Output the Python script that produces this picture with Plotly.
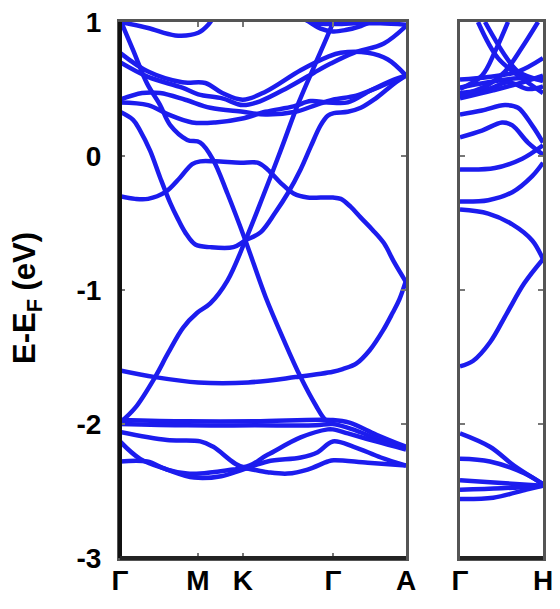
import plotly.graph_objects as go

# ---------------- left panel: path G-M-K-G-A (path coordinate) ----------------
kpath_vals = [0.0, 0.577, 0.910, 1.577, 2.119]
kpath_text = ["Γ", "M", "K", "Γ", "A"]

b1_k = [0, 0.26, 0.58, 0.95, 1.30, 1.577, 1.65, 1.75, 1.85, 1.95, 2.02, 2.07, 2.119]
b1_e = [-1.60, -1.65, -1.69, -1.69, -1.65, -1.61, -1.59, -1.55, -1.45, -1.30, -1.17, -1.07, -0.93]

b2_k = [0, 0.5, 1.0, 1.577, 1.70, 1.90, 2.119]
b2_e = [-1.97, -1.98, -1.98, -1.97, -1.99, -2.08, -2.17]

b3_k = [0, 0.5, 1.0, 1.45, 1.577, 1.75, 1.95, 2.119]
b3_e = [-2.00, -2.01, -2.01, -2.01, -2.00, -2.05, -2.13, -2.18]

b4_k = [0, 0.349, 0.595, 0.691, 0.914, 1.093, 1.338, 1.539, 1.577, 1.688, 1.896, 2.119]
b4_e = [-2.06, -2.12, -2.13, -2.17, -2.32, -2.23, -2.10, -2.04, -2.04, -2.07, -2.13, -2.19]

b5_k = [0, 0.149, 0.349, 0.55, 0.75, 0.91, 1.093, 1.34, 1.465, 1.577, 1.732, 1.933, 2.119]
b5_e = [-2.13, -2.26, -2.34, -2.40, -2.39, -2.34, -2.28, -2.25, -2.21, -2.13, -2.17, -2.25, -2.31]

b6_k = [0, 0.201, 0.349, 0.498, 0.595, 0.840, 0.914, 1.093, 1.242, 1.390, 1.539, 1.584, 1.836, 2.119]
b6_e = [-2.28, -2.28, -2.34, -2.37, -2.37, -2.34, -2.33, -2.36, -2.37, -2.34, -2.28, -2.27, -2.29, -2.31]

x1_k = [0, 0.112, 0.260, 0.357, 0.468, 0.572, 0.669, 0.796, 0.929, 1.056, 1.190, 1.316, 1.435, 1.539, 1.60]
x1_e = [-1.99, -1.88, -1.65, -1.47, -1.28, -1.17, -1.10, -0.93, -0.63, -0.31, 0.04, 0.38, 0.66, 0.90, 1.05]

x2_k = [0, 0.097, 0.201, 0.297, 0.372, 0.498, 0.595, 0.691, 0.796, 0.929, 1.078, 1.212, 1.338, 1.450, 1.524, 1.577]
x2_e = [1.02, 0.79, 0.54, 0.38, 0.23, 0.12, 0.10, -0.03, -0.28, -0.63, -1.05, -1.37, -1.65, -1.86, -1.97, -1.99]

al_k = [0, 0.112, 0.208, 0.335, 0.446, 0.535, 0.595, 0.706, 0.892, 1.019, 1.093, 1.190, 1.286, 1.390, 1.487,
        1.577, 1.636, 1.71, 1.784, 1.87, 1.955, 2.03, 2.119]
al_e = [-0.30, -0.32, -0.32, -0.27, -0.16, -0.06, -0.04, -0.04, -0.05, -0.05, -0.10, -0.20, -0.28, -0.31, -0.31,
        -0.31, -0.32, -0.38, -0.46, -0.55, -0.65, -0.79, -0.94]

be_k = [0, 0.097, 0.149, 0.223, 0.297, 0.372, 0.424, 0.483, 0.558, 0.669, 0.840, 0.929, 1.041, 1.152, 1.242,
        1.338, 1.413, 1.487, 1.539, 1.584, 1.688, 1.784, 1.881, 1.970, 2.045, 2.119]
be_e = [0.33, 0.27, 0.19, 0.04, -0.16, -0.35, -0.46, -0.57, -0.66, -0.68, -0.68, -0.63, -0.57, -0.42, -0.28,
        -0.10, 0.07, 0.23, 0.30, 0.32, 0.33, 0.36, 0.42, 0.49, 0.55, 0.60]

c1_k = [0, 0.208, 0.409, 0.580, 0.654, 0.70]
c1_e = [1.00, 0.955, 0.90, 0.92, 0.98, 1.05]

c2_k = [0, 0.208, 0.461, 0.632, 0.758, 0.910, 1.078, 1.338, 1.539, 1.636, 1.836, 1.985, 2.119]
c2_e = [0.77, 0.63, 0.55, 0.545, 0.47, 0.42, 0.48, 0.64, 0.74, 0.77, 0.77, 0.72, 0.60]

c3_k = [0, 0.208, 0.461, 0.580, 0.758, 0.910, 1.041, 1.242, 1.435, 1.561, 1.732, 1.955, 2.119]
c3_e = [0.70, 0.59, 0.51, 0.46, 0.43, 0.38, 0.41, 0.51, 0.62, 0.69, 0.77, 0.84, 0.97]

c4_k = [0, 0.164, 0.297, 0.483, 0.669, 0.910, 1.078, 1.301, 1.45, 1.577, 1.75, 1.93, 2.119]
c4_e = [0.42, 0.47, 0.47, 0.42, 0.36, 0.33, 0.31, 0.33, 0.38, 0.42, 0.45, 0.52, 0.60]

c5_k = [0, 0.208, 0.357, 0.535, 0.706, 0.907, 1.078, 1.286, 1.413, 1.539, 1.688, 1.859, 2.030, 2.119]
c5_e = [0.40, 0.38, 0.31, 0.25, 0.25, 0.28, 0.33, 0.37, 0.41, 0.40, 0.40, 0.49, 0.57, 0.60]

t1_k = [1.375, 1.487, 1.577, 1.670, 1.784, 1.896]
t1_e = [1.02, 0.95, 0.93, 0.94, 0.97, 1.02]

t2_k = [1.30, 1.450, 1.577, 1.75, 1.93, 2.119]
t2_e = [1.05, 0.99, 0.985, 0.99, 0.99, 0.98]

left_bands = [(b1_k, b1_e), (b2_k, b2_e), (b3_k, b3_e), (b4_k, b4_e), (b5_k, b5_e), (b6_k, b6_e),
              (x1_k, x1_e), (x2_k, x2_e), (al_k, al_e), (be_k, be_e), (c1_k, c1_e), (c2_k, c2_e),
              (c3_k, c3_e), (c4_k, c4_e), (c5_k, c5_e), (t1_k, t1_e), (t2_k, t2_e)]

# ---------------- right panel: G-H ----------------
rpath_vals = [0.0, 1.0]
rpath_text = ["Γ", "H"]

ra_u = [0, 0.34, 0.63, 0.87, 1.0]
ra_e = [-0.40, -0.43, -0.51, -0.63, -0.77]
rb_u = [0, 0.156, 0.362, 0.568, 0.774, 1.0]
rb_e = [-1.57, -1.53, -1.39, -1.17, -0.95, -0.77]
h1_u = [0, 0.34, 0.63, 0.87, 1.0]
h1_e = [-0.34, -0.33, -0.27, -0.15, -0.05]
h3_u = [0, 0.42, 0.75, 1.0]
h3_e = [-0.10, -0.09, -0.02, 0.08]
h4_u = [0, 0.265, 0.506, 0.627, 0.819, 1.0]
h4_e = [0.14, 0.19, 0.25, 0.23, 0.10, 0.01]
h5_u = [0, 0.265, 0.542, 0.699, 0.867, 1.0]
h5_e = [0.31, 0.34, 0.38, 0.36, 0.23, 0.10]
h6_u = [0, 0.34, 0.70, 1.0]
h6_e = [0.57, 0.59, 0.63, 0.73]
h7_u = [0, 0.34, 0.70, 1.0]
h7_e = [0.51, 0.55, 0.58, 0.57]
h8_u = [0, 0.34, 0.58, 0.82, 1.0]
h8_e = [0.47, 0.50, 0.55, 0.50, 0.52]
h9_u = [0, 0.40, 0.70, 1.0]
h9_e = [0.43, 0.49, 0.54, 0.60]
h10_u = [0.217, 0.458, 0.747, 1.0]
h10_e = [1.0, 0.73, 0.58, 0.47]
h11_u = [0.301, 0.542, 0.70, 1.0]
h11_e = [1.0, 0.75, 0.63, 0.56]
h12_u = [0, 0.265, 0.422, 0.578]
h12_e = [0.50, 0.60, 0.78, 1.0]
h13_u = [0, 0.337, 0.542, 0.747, 0.94]
h13_e = [0.45, 0.53, 0.63, 0.81, 1.0]
l1_u = [0, 0.36, 0.65, 0.95, 1.0]
l1_e = [-2.07, -2.17, -2.31, -2.43, -2.45]
l2_u = [0, 0.36, 0.78, 1.0]
l2_e = [-2.26, -2.28, -2.37, -2.45]
l3_u = [0, 0.5, 1.0]
l3_e = [-2.42, -2.44, -2.46]
l4_u = [0, 0.5, 1.0]
l4_e = [-2.49, -2.48, -2.46]
l5_u = [0, 0.4, 0.8, 1.0]
l5_e = [-2.56, -2.55, -2.49, -2.46]

right_bands = [(ra_u, ra_e), (rb_u, rb_e), (h1_u, h1_e), (h3_u, h3_e), (h4_u, h4_e), (h5_u, h5_e),
               (h6_u, h6_e), (h7_u, h7_e), (h8_u, h8_e), (h9_u, h9_e), (h10_u, h10_e), (h11_u, h11_e),
               (h12_u, h12_e), (h13_u, h13_e), (l1_u, l1_e), (l2_u, l2_e), (l3_u, l3_e), (l4_u, l4_e),
               (l5_u, l5_e)]

y_ticks = [-3, -2, -1, 0, 1]

BLUE = "rgb(28,28,238)"
fig = go.Figure()
for k, e in left_bands:
    fig.add_trace(go.Scatter(x=k, y=e, mode="lines", xaxis="x", yaxis="y",
                             line=dict(color=BLUE, width=4.5, shape="spline", smoothing=1.0),
                             showlegend=False, hoverinfo="skip"))
for u, e in right_bands:
    fig.add_trace(go.Scatter(x=u, y=e, mode="lines", xaxis="x2", yaxis="y2",
                             line=dict(color=BLUE, width=4.5, shape="spline", smoothing=1.0),
                             showlegend=False, hoverinfo="skip"))

W, H = 560, 609
FONT = "Liberation Sans, Arial, sans-serif"
tickfont = dict(family=FONT, size=28, color="black", weight="bold")
common = dict(showline=True, mirror="ticks", linecolor="#555", linewidth=3, ticks="inside",
              ticklen=5, tickcolor="#777", tickwidth=1.5, showgrid=False, zeroline=False,
              tickfont=tickfont, automargin=False)
fig.update_layout(
    width=W, height=H, margin=dict(l=0, r=0, t=0, b=0, pad=0, autoexpand=False),
    paper_bgcolor="white", plot_bgcolor="white",
    xaxis=dict(domain=[120 / W, 406 / W], range=[0, 2.119], tickvals=kpath_vals, ticktext=kpath_text,
               anchor="y", ticklabelstandoff=-5, **common),
    yaxis=dict(domain=[1 - 558 / H, 1 - 22 / H], range=[-3, 1], tickvals=y_ticks,
               ticktext=[str(v) for v in y_ticks], anchor="x", ticklabelstandoff=10, **common),
    xaxis2=dict(domain=[460 / W, 543 / W], range=[0, 1], tickvals=rpath_vals, ticktext=rpath_text,
                anchor="y2", ticklabelstandoff=-5, **common),
    yaxis2=dict(domain=[1 - 558 / H, 1 - 22 / H], range=[-3, 1], tickvals=y_ticks,
                showticklabels=False, anchor="x2", **common),
    annotations=[dict(text="<b>E-E<sub>F</sub> (eV)</b>", x=27 / W, y=1 - 298 / H, xref="paper",
                      yref="paper", xanchor="center", yanchor="middle", showarrow=False, textangle=-90,
                      font=dict(family=FONT, size=31, color="black"))],
    shapes=[
        dict(type="line", xref="x domain", yref="y domain", x0=0, x1=0, y0=0, y1=1,
             line=dict(color="#111", width=4)),
        dict(type="line", xref="x domain", yref="y domain", x0=0, x1=1, y0=0, y1=0,
             line=dict(color="#222", width=4)),
        dict(type="line", xref="x2 domain", yref="y2 domain", x0=0, x1=1, y0=0, y1=0,
             line=dict(color="#222", width=4)),
    ],
)
fig.write_html("out.html")
